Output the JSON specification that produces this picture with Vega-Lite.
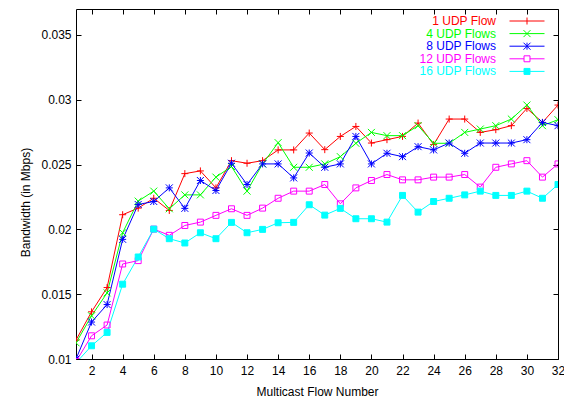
{
  "$schema": "https://vega.github.io/schema/vega-lite/v6.json",
  "width": 482,
  "height": 350,
  "autosize": "none",
  "padding": {"left": 76, "top": 9, "right": 6, "bottom": 42},
  "background": "white",
  "config": {
    "view": {"stroke": "black", "strokeWidth": 1},
    "font": "Liberation Sans",
    "axis": {"labelFont": "Liberation Sans", "titleFont": "Liberation Sans", "labelFontSize": 12, "titleFontSize": 12, "titleFontWeight": "normal", "labelColor": "black", "titleColor": "black", "tickColor": "black", "domain": false, "grid": false, "tickSize": -5, "tickWidth": 1}
  },
  "data": {"values": [
    {"x":1,"y":0.01146,"s":"1 UDP Flow"},{"x":2,"y":0.01364,"s":"1 UDP Flow"},{"x":3,"y":0.01551,"s":"1 UDP Flow"},{"x":4,"y":0.02113,"s":"1 UDP Flow"},{"x":5,"y":0.02164,"s":"1 UDP Flow"},{"x":6,"y":0.0224,"s":"1 UDP Flow"},{"x":7,"y":0.02146,"s":"1 UDP Flow"},{"x":8,"y":0.0243,"s":"1 UDP Flow"},{"x":9,"y":0.02451,"s":"1 UDP Flow"},{"x":10,"y":0.0232,"s":"1 UDP Flow"},{"x":11,"y":0.0253,"s":"1 UDP Flow"},{"x":12,"y":0.0251,"s":"1 UDP Flow"},{"x":13,"y":0.0253,"s":"1 UDP Flow"},{"x":14,"y":0.02613,"s":"1 UDP Flow"},{"x":15,"y":0.02613,"s":"1 UDP Flow"},{"x":16,"y":0.02743,"s":"1 UDP Flow"},{"x":17,"y":0.02615,"s":"1 UDP Flow"},{"x":18,"y":0.02717,"s":"1 UDP Flow"},{"x":19,"y":0.02794,"s":"1 UDP Flow"},{"x":20,"y":0.02666,"s":"1 UDP Flow"},{"x":21,"y":0.02692,"s":"1 UDP Flow"},{"x":22,"y":0.02717,"s":"1 UDP Flow"},{"x":23,"y":0.0282,"s":"1 UDP Flow"},{"x":24,"y":0.02654,"s":"1 UDP Flow"},{"x":25,"y":0.02851,"s":"1 UDP Flow"},{"x":26,"y":0.02851,"s":"1 UDP Flow"},{"x":27,"y":0.02748,"s":"1 UDP Flow"},{"x":28,"y":0.02769,"s":"1 UDP Flow"},{"x":29,"y":0.028,"s":"1 UDP Flow"},{"x":30,"y":0.02933,"s":"1 UDP Flow"},{"x":31,"y":0.02825,"s":"1 UDP Flow"},{"x":32,"y":0.02959,"s":"1 UDP Flow"},
    {"x":1,"y":0.01125,"s":"4 UDP Flows"},{"x":2,"y":0.01333,"s":"4 UDP Flows"},{"x":3,"y":0.0151,"s":"4 UDP Flows"},{"x":4,"y":0.01974,"s":"4 UDP Flows"},{"x":5,"y":0.02218,"s":"4 UDP Flows"},{"x":6,"y":0.02295,"s":"4 UDP Flows"},{"x":7,"y":0.02159,"s":"4 UDP Flows"},{"x":8,"y":0.02266,"s":"4 UDP Flows"},{"x":9,"y":0.02266,"s":"4 UDP Flows"},{"x":10,"y":0.02403,"s":"4 UDP Flows"},{"x":11,"y":0.02485,"s":"4 UDP Flows"},{"x":12,"y":0.02295,"s":"4 UDP Flows"},{"x":13,"y":0.02505,"s":"4 UDP Flows"},{"x":14,"y":0.02669,"s":"4 UDP Flows"},{"x":15,"y":0.02479,"s":"4 UDP Flows"},{"x":16,"y":0.02479,"s":"4 UDP Flows"},{"x":17,"y":0.02505,"s":"4 UDP Flows"},{"x":18,"y":0.02561,"s":"4 UDP Flows"},{"x":19,"y":0.02664,"s":"4 UDP Flows"},{"x":20,"y":0.02748,"s":"4 UDP Flows"},{"x":21,"y":0.02723,"s":"4 UDP Flows"},{"x":22,"y":0.02723,"s":"4 UDP Flows"},{"x":23,"y":0.028,"s":"4 UDP Flows"},{"x":24,"y":0.02664,"s":"4 UDP Flows"},{"x":25,"y":0.02664,"s":"4 UDP Flows"},{"x":26,"y":0.02748,"s":"4 UDP Flows"},{"x":27,"y":0.02774,"s":"4 UDP Flows"},{"x":28,"y":0.028,"s":"4 UDP Flows"},{"x":29,"y":0.02851,"s":"4 UDP Flows"},{"x":30,"y":0.02959,"s":"4 UDP Flows"},{"x":31,"y":0.028,"s":"4 UDP Flows"},{"x":32,"y":0.02846,"s":"4 UDP Flows"},
    {"x":1,"y":0.01,"s":"8 UDP Flows"},{"x":2,"y":0.01285,"s":"8 UDP Flows"},{"x":3,"y":0.0142,"s":"8 UDP Flows"},{"x":4,"y":0.01923,"s":"8 UDP Flows"},{"x":5,"y":0.02192,"s":"8 UDP Flows"},{"x":6,"y":0.02215,"s":"8 UDP Flows"},{"x":7,"y":0.0232,"s":"8 UDP Flows"},{"x":8,"y":0.02162,"s":"8 UDP Flows"},{"x":9,"y":0.02377,"s":"8 UDP Flows"},{"x":10,"y":0.023,"s":"8 UDP Flows"},{"x":11,"y":0.0251,"s":"8 UDP Flows"},{"x":12,"y":0.02346,"s":"8 UDP Flows"},{"x":13,"y":0.02505,"s":"8 UDP Flows"},{"x":14,"y":0.02505,"s":"8 UDP Flows"},{"x":15,"y":0.02397,"s":"8 UDP Flows"},{"x":16,"y":0.02589,"s":"8 UDP Flows"},{"x":17,"y":0.02479,"s":"8 UDP Flows"},{"x":18,"y":0.02505,"s":"8 UDP Flows"},{"x":19,"y":0.02717,"s":"8 UDP Flows"},{"x":20,"y":0.02505,"s":"8 UDP Flows"},{"x":21,"y":0.02587,"s":"8 UDP Flows"},{"x":22,"y":0.02561,"s":"8 UDP Flows"},{"x":23,"y":0.02638,"s":"8 UDP Flows"},{"x":24,"y":0.02613,"s":"8 UDP Flows"},{"x":25,"y":0.02666,"s":"8 UDP Flows"},{"x":26,"y":0.02587,"s":"8 UDP Flows"},{"x":27,"y":0.02666,"s":"8 UDP Flows"},{"x":28,"y":0.02666,"s":"8 UDP Flows"},{"x":29,"y":0.02666,"s":"8 UDP Flows"},{"x":30,"y":0.02692,"s":"8 UDP Flows"},{"x":31,"y":0.02825,"s":"8 UDP Flows"},{"x":32,"y":0.028,"s":"8 UDP Flows"},
    {"x":1,"y":0.0098,"s":"12 UDP Flows"},{"x":2,"y":0.01179,"s":"12 UDP Flows"},{"x":3,"y":0.01262,"s":"12 UDP Flows"},{"x":4,"y":0.01733,"s":"12 UDP Flows"},{"x":5,"y":0.01759,"s":"12 UDP Flows"},{"x":6,"y":0.02002,"s":"12 UDP Flows"},{"x":7,"y":0.01954,"s":"12 UDP Flows"},{"x":8,"y":0.0203,"s":"12 UDP Flows"},{"x":9,"y":0.02056,"s":"12 UDP Flows"},{"x":10,"y":0.02108,"s":"12 UDP Flows"},{"x":11,"y":0.02159,"s":"12 UDP Flows"},{"x":12,"y":0.02108,"s":"12 UDP Flows"},{"x":13,"y":0.02164,"s":"12 UDP Flows"},{"x":14,"y":0.0224,"s":"12 UDP Flows"},{"x":15,"y":0.02295,"s":"12 UDP Flows"},{"x":16,"y":0.02295,"s":"12 UDP Flows"},{"x":17,"y":0.02346,"s":"12 UDP Flows"},{"x":18,"y":0.02197,"s":"12 UDP Flows"},{"x":19,"y":0.0232,"s":"12 UDP Flows"},{"x":20,"y":0.02377,"s":"12 UDP Flows"},{"x":21,"y":0.02423,"s":"12 UDP Flows"},{"x":22,"y":0.02382,"s":"12 UDP Flows"},{"x":23,"y":0.02382,"s":"12 UDP Flows"},{"x":24,"y":0.02403,"s":"12 UDP Flows"},{"x":25,"y":0.02403,"s":"12 UDP Flows"},{"x":26,"y":0.02423,"s":"12 UDP Flows"},{"x":27,"y":0.02326,"s":"12 UDP Flows"},{"x":28,"y":0.02479,"s":"12 UDP Flows"},{"x":29,"y":0.02505,"s":"12 UDP Flows"},{"x":30,"y":0.0253,"s":"12 UDP Flows"},{"x":31,"y":0.02403,"s":"12 UDP Flows"},{"x":32,"y":0.02505,"s":"12 UDP Flows"},
    {"x":1,"y":0.0097,"s":"16 UDP Flows"},{"x":2,"y":0.01102,"s":"16 UDP Flows"},{"x":3,"y":0.01205,"s":"16 UDP Flows"},{"x":4,"y":0.01577,"s":"16 UDP Flows"},{"x":5,"y":0.01787,"s":"16 UDP Flows"},{"x":6,"y":0.02002,"s":"16 UDP Flows"},{"x":7,"y":0.01928,"s":"16 UDP Flows"},{"x":8,"y":0.01895,"s":"16 UDP Flows"},{"x":9,"y":0.01974,"s":"16 UDP Flows"},{"x":10,"y":0.01928,"s":"16 UDP Flows"},{"x":11,"y":0.02054,"s":"16 UDP Flows"},{"x":12,"y":0.01974,"s":"16 UDP Flows"},{"x":13,"y":0.02,"s":"16 UDP Flows"},{"x":14,"y":0.02051,"s":"16 UDP Flows"},{"x":15,"y":0.02054,"s":"16 UDP Flows"},{"x":16,"y":0.0219,"s":"16 UDP Flows"},{"x":17,"y":0.0211,"s":"16 UDP Flows"},{"x":18,"y":0.02162,"s":"16 UDP Flows"},{"x":19,"y":0.02082,"s":"16 UDP Flows"},{"x":20,"y":0.02082,"s":"16 UDP Flows"},{"x":21,"y":0.02056,"s":"16 UDP Flows"},{"x":22,"y":0.02262,"s":"16 UDP Flows"},{"x":23,"y":0.02133,"s":"16 UDP Flows"},{"x":24,"y":0.02215,"s":"16 UDP Flows"},{"x":25,"y":0.0224,"s":"16 UDP Flows"},{"x":26,"y":0.02266,"s":"16 UDP Flows"},{"x":27,"y":0.02295,"s":"16 UDP Flows"},{"x":28,"y":0.02262,"s":"16 UDP Flows"},{"x":29,"y":0.02262,"s":"16 UDP Flows"},{"x":30,"y":0.02295,"s":"16 UDP Flows"},{"x":31,"y":0.0224,"s":"16 UDP Flows"},{"x":32,"y":0.02346,"s":"16 UDP Flows"}
  ]},
  "resolve": {"axis": {"x": "independent", "y": "independent"}},
  "layer": [
    {
      "mark": {"type": "line", "clip": true, "strokeWidth": 1},
      "encoding": {
        "x": {"field": "x", "type": "quantitative", "scale": {"domain": [1, 32], "nice": false, "zero": false},
          "axis": {"title": "Multicast Flow Number", "values": [2,4,6,8,10,12,14,16,18,20,22,24,26,28,30,32], "labelPadding": 11, "titlePadding": 10, "labelFlush": false}},
        "y": {"field": "y", "type": "quantitative", "scale": {"domain": [0.01, 0.037], "nice": false, "zero": false},
          "axis": {"title": "Bandwidth (in Mbps)", "values": [0.01,0.015,0.02,0.025,0.03,0.035], "format": "~g", "labelPadding": 10, "labelFlush": false, "titleX": -51, "titleY": 193, "titleAngle": -90, "titleAnchor": "middle", "titleAlign": "center", "titleBaseline": "middle"}},
        "stroke": {"field": "s", "type": "nominal",
          "scale": {"domain": ["1 UDP Flow","4 UDP Flows","8 UDP Flows","12 UDP Flows","16 UDP Flows"], "range": ["#ff0000","#00ff00","#0000ff","#ff00ff","#00ffff"]},
          "legend": {
            "title": null, "orient": "none", "legendX": 445, "legendY": 6, "padding": 0,
            "symbolType": "M-5,0H5", "symbolSize": 49, "symbolStrokeWidth": 1,
            "labelAlign": "right", "labelOffset": -37, "labelFontSize": 12, "labelFont": "Liberation Sans", "rowPadding": 0.6, "labelLimit": 0,
            "encode": {
              "labels": {"update": {"fill": {"signal": "datum.value === '1 UDP Flow' ? '#ff0000' : datum.value === '4 UDP Flows' ? '#00ff00' : datum.value === '8 UDP Flows' ? '#0000ff' : datum.value === '12 UDP Flows' ? '#ff00ff' : '#00ffff'"}}},
              "symbols": {"update": {
                "shape": {"signal": "datum.value === '1 UDP Flow' ? 'M-5,0H5M0,-1V1' : datum.value === '4 UDP Flows' ? 'M-5,0H5M-1,-1L1,1M-1,1L1,-1' : datum.value === '8 UDP Flows' ? 'M-5,0H5M0,-1V1M-1,-1L1,1M-1,1L1,-1' : 'M-5,0H-0.85M0.85,0H5M-0.85,-0.85H0.85V0.85H-0.85Z'"},
                "fill": {"signal": "datum.value === '16 UDP Flows' ? '#00ffff' : 'transparent'"}
              }}
            }
          }
        }
      }
    },
    {
      "mark": {"type": "point", "opacity": 0},
      "encoding": {
        "x": {"field": "x", "type": "quantitative", "axis": {"orient": "top", "title": null, "labels": false, "values": [2,4,6,8,10,12,14,16,18,20,22,24,26,28,30,32]}},
        "y": {"field": "y", "type": "quantitative", "axis": {"orient": "right", "title": null, "labels": false, "values": [0.01,0.015,0.02,0.025,0.03,0.035]}}
      }
    },
    {
      "transform": [{"filter": "datum.s === '1 UDP Flow'"}],
      "mark": {"type": "point", "clip": true, "size": 49, "strokeWidth": 1, "opacity": 1, "filled": false, "shape": "M-1,0H1M0,-1V1"},
      "encoding": {"x": {"field": "x", "type": "quantitative", "axis": null}, "y": {"field": "y", "type": "quantitative", "axis": null}, "stroke": {"field": "s", "type": "nominal", "legend": null}}
    },
    {
      "transform": [{"filter": "datum.s === '4 UDP Flows'"}],
      "mark": {"type": "point", "clip": true, "size": 49, "strokeWidth": 1, "opacity": 1, "filled": false, "shape": "M-1,-1L1,1M-1,1L1,-1"},
      "encoding": {"x": {"field": "x", "type": "quantitative", "axis": null}, "y": {"field": "y", "type": "quantitative", "axis": null}, "stroke": {"field": "s", "type": "nominal", "legend": null}}
    },
    {
      "transform": [{"filter": "datum.s === '8 UDP Flows'"}],
      "mark": {"type": "point", "clip": true, "size": 49, "strokeWidth": 1, "opacity": 1, "filled": false, "shape": "M-1,0H1M0,-1V1M-1,-1L1,1M-1,1L1,-1"},
      "encoding": {"x": {"field": "x", "type": "quantitative", "axis": null}, "y": {"field": "y", "type": "quantitative", "axis": null}, "stroke": {"field": "s", "type": "nominal", "legend": null}}
    },
    {
      "transform": [{"filter": "datum.s === '12 UDP Flows'"}],
      "mark": {"type": "point", "clip": true, "size": 49, "strokeWidth": 1, "opacity": 1, "filled": false, "shape": "M-0.85,-0.85H0.85V0.85H-0.85Z"},
      "encoding": {"x": {"field": "x", "type": "quantitative", "axis": null}, "y": {"field": "y", "type": "quantitative", "axis": null}, "stroke": {"field": "s", "type": "nominal", "legend": null}}
    },
    {
      "transform": [{"filter": "datum.s === '16 UDP Flows'"}],
      "mark": {"type": "point", "clip": true, "size": 49, "strokeWidth": 1, "opacity": 1, "filled": false, "fill": "#00ffff", "shape": "M-0.85,-0.85H0.85V0.85H-0.85Z"},
      "encoding": {"x": {"field": "x", "type": "quantitative", "axis": null}, "y": {"field": "y", "type": "quantitative", "axis": null}, "stroke": {"field": "s", "type": "nominal", "legend": null}}
    }
  ]
}
